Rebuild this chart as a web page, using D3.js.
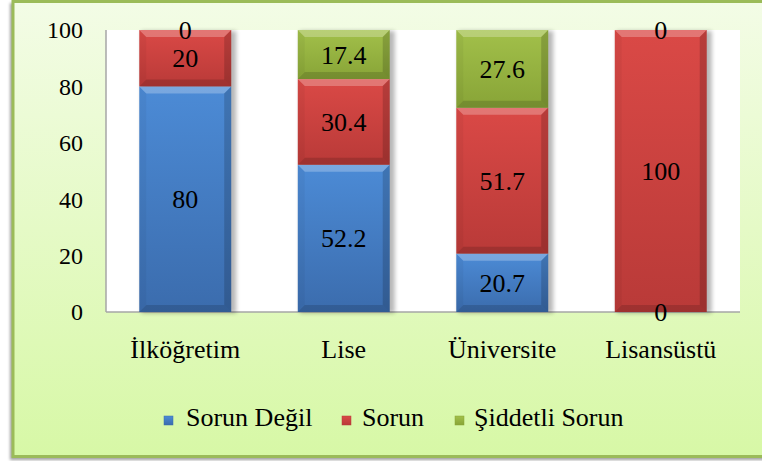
<html>
<head>
<meta charset="utf-8">
<script src="https://cdn.jsdelivr.net/npm/d3@7"></script>
<style>
  svg text { font-family: "Times New Roman", "Liberation Serif", Tinos, "DejaVu Serif"; }
</style>
</head>
<body style="margin:0">
<svg id="chart" width="762" height="461" font-family="Times New Roman"></svg>
<script>
// Education level categories and the three answer groups (percent)
const categories = ["İlköğretim", "Lise", "Üniversite", "Lisansüstü"];
const seriesNames = ["Sorun Değil", "Sorun", "Şiddetli Sorun"];
const sorunDegil = [80, 52.2, 20.7, 0];
const sorun = [20, 30.4, 51.7, 100];
const siddetliSorun = [0, 17.4, 27.6, 0];
const yTicks = [0, 20, 40, 60, 80, 100];

const FONT = '"Times New Roman", "Liberation Serif", Tinos, "DejaVu Serif"';

const seriesValues = [sorunDegil, sorun, siddetliSorun];
const palette = [
  { top: "#4c8bd6", bottom: "#3b6cad" },
  { top: "#da4946", bottom: "#b93a38" },
  { top: "#a2c04a", bottom: "#88a437" }
];

const svg = d3.select("#chart");

// Shared text helper so every label uses the same serif face
function label(sel, size) {
  return sel.attr("font-family", "Times New Roman")
    .style("font-family", FONT)
    .style("font-size", size + "px")
    .attr("fill", "#000");
}

const defs = svg.append("defs");

// Frame background gradient
const bg = defs.append("linearGradient").attr("id", "bgGrad")
  .attr("x1", 0).attr("y1", 0).attr("x2", 0).attr("y2", 1);
bg.append("stop").attr("offset", "0%").attr("stop-color", "#f3fce6");
bg.append("stop").attr("offset", "100%").attr("stop-color", "#d7f8a6");

palette.forEach((p, i) => {
  const g = defs.append("linearGradient").attr("id", "barGrad" + i)
    .attr("x1", 0).attr("y1", 0).attr("x2", 0).attr("y2", 1);
  g.append("stop").attr("offset", "0%").attr("stop-color", p.top);
  g.append("stop").attr("offset", "100%").attr("stop-color", p.bottom);
});

const shadow = defs.append("filter").attr("id", "shadow")
  .attr("x", "-20%").attr("y", "-20%").attr("width", "140%").attr("height", "140%");
shadow.append("feGaussianBlur").attr("stdDeviation", 2);

const frameShadow = defs.append("filter").attr("id", "frameShadow")
  .attr("x", "-5%").attr("y", "-5%").attr("width", "110%").attr("height", "110%");
frameShadow.append("feGaussianBlur").attr("stdDeviation", 1.5);

// Outer frame
svg.append("rect").attr("x", 10).attr("y", 3).attr("width", 760).attr("height", 457)
  .attr("fill", "#a0a0a0").attr("filter", "url(#frameShadow)");
svg.append("rect").attr("x", 13).attr("y", 1.5).attr("width", 760).attr("height", 455)
  .attr("fill", "url(#bgGrad)").attr("stroke", "#9bbb59").attr("stroke-width", 3);

const plot = { left: 106, right: 740, top: 30, bottom: 312 };

// White plot area
svg.append("rect").attr("x", plot.left).attr("y", plot.top)
  .attr("width", plot.right - plot.left).attr("height", plot.bottom - plot.top)
  .attr("fill", "#ffffff");

const x = d3.scaleBand().domain(categories).range([plot.left, plot.right])
  .paddingInner(0.42).paddingOuter(0.21);
const y = d3.scaleLinear().domain([0, 100]).range([plot.bottom, plot.top]);

// Axis lines
svg.append("line").attr("x1", plot.left).attr("x2", plot.left)
  .attr("y1", plot.top).attr("y2", plot.bottom)
  .attr("stroke", "#a6a6a6").attr("stroke-width", 1.5);
svg.append("line").attr("x1", plot.left).attr("x2", plot.right)
  .attr("y1", plot.bottom).attr("y2", plot.bottom)
  .attr("stroke", "#a6a6a6").attr("stroke-width", 1.5);

// Y tick labels
const yAxis = d3.axisLeft(y).tickValues(yTicks).tickSize(0).tickPadding(0);
const yg = svg.append("g").attr("transform", `translate(83,0)`).call(yAxis);
yg.attr("font-family", "Times New Roman").attr("font-size", "24px");
yg.select(".domain").remove();
label(yg.selectAll("text"), 24).attr("dy", "0.33em");

// Stack the series
const rows = categories.map((c, i) => {
  const r = { cat: c };
  seriesNames.forEach((s, k) => { r[s] = seriesValues[k][i]; });
  return r;
});
const stacked = d3.stack().keys(seriesNames)(rows);

const bw = x.bandwidth();

// Bar shadows
categories.forEach(c => {
  svg.append("rect").attr("x", x(c) + 2).attr("y", y(100) + 1)
    .attr("width", bw + 3).attr("height", y(0) - y(100))
    .attr("fill", "#000").attr("opacity", 0.28).attr("filter", "url(#shadow)");
});

// Bevelled segments
stacked.forEach((layer, k) => {
  const g = svg.append("g");
  layer.forEach((d, i) => {
    const x0 = x(categories[i]), x1 = x0 + bw;
    const yTop = y(d[1]), yBot = y(d[0]);
    const h = yBot - yTop;
    if (h <= 0.5) return;
    const b = Math.min(7, h / 2);
    g.append("rect").attr("x", x0).attr("y", yTop).attr("width", bw).attr("height", h)
      .attr("fill", `url(#barGrad${k})`);
    const poly = (pts, fill, op) => g.append("polygon")
      .attr("points", pts.map(p => p.join(",")).join(" "))
      .attr("fill", fill).attr("opacity", op);
    poly([[x0, yTop], [x1, yTop], [x1 - b, yTop + b], [x0 + b, yTop + b]], "#ffffff", 0.25);
    poly([[x0, yTop], [x0 + b, yTop + b], [x0 + b, yBot - b], [x0, yBot]], "#000000", 0.04);
    poly([[x1, yTop], [x1, yBot], [x1 - b, yBot - b], [x1 - b, yTop + b]], "#000000", 0.16);
    poly([[x0, yBot], [x0 + b, yBot - b], [x1 - b, yBot - b], [x1, yBot]], "#000000", 0.14);
  });
});

// Value labels
stacked.forEach(layer => {
  layer.forEach((d, i) => {
    const v = d.data[layer.key];
    label(svg.append("text"), 26)
      .attr("x", x(categories[i]) + bw / 2)
      .attr("y", y((d[0] + d[1]) / 2))
      .attr("dy", "0.35em")
      .attr("text-anchor", "middle")
      .text(v);
  });
});

// Category labels
categories.forEach(c => {
  label(svg.append("text"), 26)
    .attr("x", x(c) + bw / 2).attr("y", 358)
    .attr("text-anchor", "middle")
    .text(c);
});

// Legend
const legendItems = [
  { name: seriesNames[0], sx: 164, tx: 186 },
  { name: seriesNames[1], sx: 342, tx: 362 },
  { name: seriesNames[2], sx: 455, tx: 474 }
];
legendItems.forEach((it, k) => {
  svg.append("rect").attr("x", it.sx).attr("y", 416).attr("width", 9).attr("height", 9)
    .attr("fill", `url(#barGrad${k})`).attr("stroke", palette[k].bottom).attr("stroke-width", 0.5);
  label(svg.append("text"), 26)
    .attr("x", it.tx).attr("y", 426)
    .text(it.name);
});
</script>
</body>
</html>
